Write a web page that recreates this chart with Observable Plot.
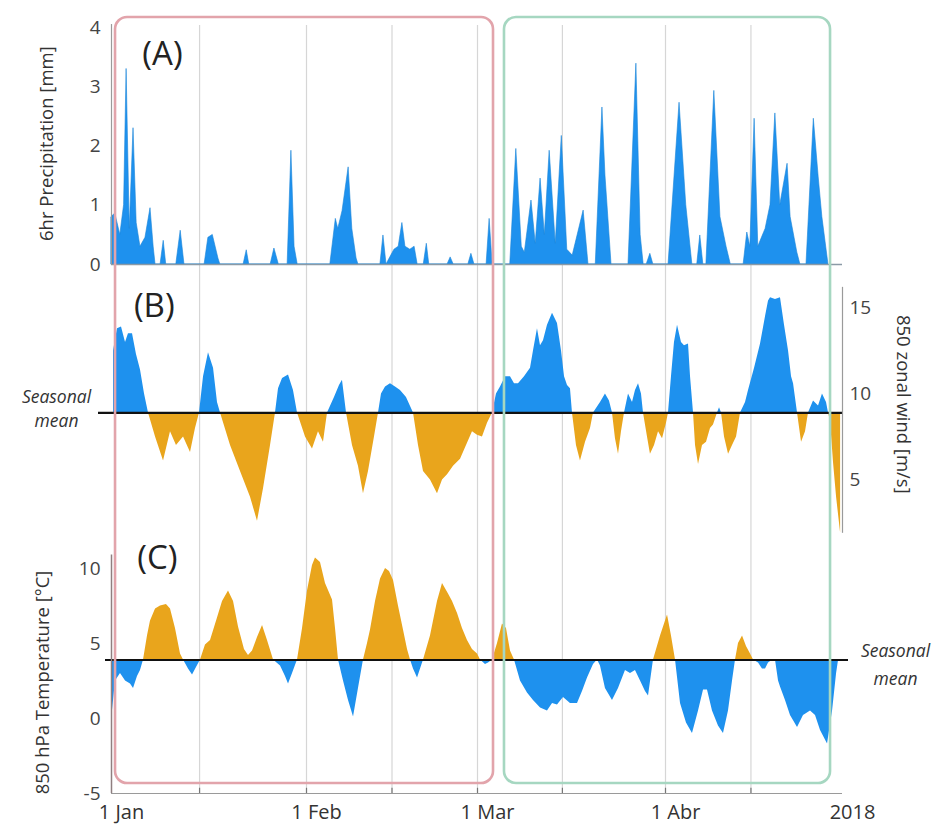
<!DOCTYPE html>
<html><head><meta charset="utf-8">
<script src="https://cdn.jsdelivr.net/npm/d3@7"></script>
<script src="https://cdn.jsdelivr.net/npm/@observablehq/plot@0.6"></script>
<style>
body{margin:0;background:#fff;}
#chart{position:relative;width:942px;height:835px;font-family:"Open Sans",sans-serif;}
#chart svg{position:absolute;left:0;top:0;}
</style></head><body><div id="chart"></div>
<script>
// ---- data (day = days since 1 Jan 2018) ----
const precip = [[0,0.8],[0.6,0.86],[1.4,0.5],[2.0,1.0],[2.4,3.3],[2.9,0.6],[3.5,2.3],[4.0,0.7],[4.6,0.3],[5.4,0.45],[6.2,0.95],[6.7,0.3],[7.0,0],[7.8,0],[8.3,0.4],[8.7,0],[10.3,0],[11.0,0.57],[11.6,0],[14.8,0],[15.4,0.45],[16.1,0.5],[17.0,0.1],[17.3,0],[21.0,0],[21.5,0.24],[21.9,0],[25.3,0],[25.9,0.27],[26.6,0],[28.0,0],[28.6,1.92],[29.1,0.3],[29.6,0],[34.9,0],[35.8,0.77],[36.2,0.6],[36.9,0.9],[37.9,1.64],[38.5,0.6],[39.2,0.1],[39.5,0],[43.1,0],[43.6,0.49],[44.1,0],[45.4,0.25],[46.1,0.3],[46.7,0.7],[47.2,0.3],[48.0,0.25],[48.7,0.3],[49.2,0],[50.2,0],[50.7,0.35],[51.1,0],[54.1,0],[54.6,0.12],[55.1,0],[57.5,0],[58.0,0.18],[58.5,0],[60.5,0],[61.0,0.77],[61.5,0],[64.4,0],[65.4,1.95],[66.3,0.3],[66.8,0.2],[67.9,1.08],[68.6,0.35],[69.4,1.45],[70.1,0.5],[70.9,1.92],[71.9,0.35],[72.9,2.17],[73.8,0.25],[74.7,0.15],[76.5,0.91],[77.3,0],[78.5,0],[79.6,2.65],[80.1,1.5],[81.1,0],[83.9,0],[85.2,3.39],[85.9,0.5],[86.4,0],[86.9,0],[87.5,0.18],[88.0,0],[90.5,0],[92.3,2.73],[93.4,1.0],[94.4,0],[95.2,0],[95.7,0.49],[96.2,0],[96.7,0],[98.0,2.93],[99.0,0.8],[100.0,0.3],[100.7,0],[102.8,0],[103.4,0.54],[103.9,0.3],[104.6,2.46],[105.2,0.3],[106.4,0.6],[107.2,1.0],[108.0,2.55],[108.8,1.0],[110.0,1.7],[110.5,0.8],[111.6,0.2],[112.1,0],[113.1,0],[114.3,2.46],[115.1,1.47],[115.7,0.8],[116.7,0]];

const wind = [[0.32,12.5],[0.95,13.8],[1.59,13.9],[2.23,13.0],[2.70,13.5],[3.34,13.5],[3.97,12.3],[4.61,11.4],[5.25,10.0],[5.88,8.9],[7.0,7.5],[8.27,6.1],[9.38,7.8],[10.33,7.0],[11.45,7.5],[12.56,6.6],[13.35,8.0],[13.99,8.9],[14.63,11.0],[15.42,12.4],[16.22,11.5],[16.85,9.5],[17.33,8.9],[18.92,7.0],[20.51,5.5],[22.10,4.0],[23.21,2.6],[24.17,4.5],[25.28,7.0],[26.07,8.9],[26.55,10.3],[27.19,10.9],[28.14,11.1],[28.93,10.2],[29.57,8.9],[30.84,7.5],[31.98,6.8],[32.96,7.8],[33.78,7.2],[34.44,8.9],[35.58,9.8],[36.40,10.5],[36.89,10.8],[37.55,8.9],[38.53,7.0],[39.51,5.8],[40.33,4.2],[41.15,5.5],[42.13,7.5],[42.79,8.9],[43.28,10.0],[43.94,10.4],[44.75,10.6],[45.57,10.4],[46.39,10.2],[47.37,9.8],[48.52,8.9],[49.34,7.0],[50.16,5.5],[51.30,5.0],[52.45,4.2],[53.27,5.0],[54.09,5.3],[55.07,5.8],[56.22,6.2],[57.20,7.0],[58.18,7.8],[59.0,7.6],[59.82,7.5],[60.65,8.3],[61.47,8.9],[62.13,10.0],[62.79,10.4],[63.62,11.0],[64.44,11.0],[65.10,10.6],[65.76,10.6],[66.75,11.0],[67.74,11.5],[68.23,12.5],[68.89,13.8],[69.39,12.8],[69.88,13.1],[70.54,14.0],[71.37,14.7],[72.19,14.1],[72.85,12.5],[73.35,11.0],[73.84,10.5],[74.33,10.3],[74.66,8.9],[75.32,7.0],[75.98,6.1],[76.81,7.2],[77.63,8.0],[78.13,8.9],[79.28,9.5],[80.10,10.0],[80.76,9.6],[81.26,8.9],[81.75,7.4],[82.25,6.5],[82.74,7.8],[83.24,8.9],[83.90,10.0],[84.56,9.5],[85.05,10.2],[85.55,10.6],[86.04,10.0],[86.37,8.9],[87.03,7.5],[87.52,6.5],[88.19,7.0],[88.85,7.8],[89.51,7.4],[90.16,8.3],[90.49,8.9],[90.98,11.0],[91.47,13.0],[91.97,14.0],[92.62,13.0],[93.11,12.8],[93.77,12.9],[94.10,11.0],[94.59,8.9],[94.92,7.0],[95.41,5.9],[96.06,7.0],[96.72,7.2],[97.37,8.0],[97.86,8.2],[98.52,8.9],[98.85,9.2],[99.18,8.9],[99.67,7.5],[100.33,6.5],[100.98,7.0],[101.64,7.5],[102.29,8.9],[103.11,9.5],[103.60,10.2],[104.59,11.5],[105.57,12.9],[106.39,14.5],[106.88,15.4],[107.21,15.6],[108.02,15.5],[108.84,15.6],[109.50,14.0],[110.16,12.5],[110.65,11.0],[110.98,10.6],[111.63,8.9],[112.29,7.2],[112.94,7.8],[113.43,8.9],[114.25,9.6],[115.07,9.3],[115.72,10.0],[116.38,9.5],[116.71,8.9],[117.04,8.4],[117.53,6.0],[118.03,4.0],[118.69,1.9]];

const temp = [[0.1,0.3],[0.64,2.5],[1.43,3.0],[2.23,2.5],[3.02,2.3],[3.50,2.0],[4.13,2.8],[4.61,3.2],[5.09,3.9],[5.72,5.5],[6.20,6.5],[7.0,7.3],[7.79,7.5],[8.74,7.6],[9.38,7.3],[10.17,6.0],[10.97,4.3],[11.45,3.9],[12.24,3.3],[12.88,2.9],[13.51,3.4],[14.15,3.9],[14.94,4.9],[15.74,5.2],[16.85,6.7],[17.65,7.8],[18.60,8.5],[19.40,7.8],[20.19,6.1],[21.14,4.6],[21.78,4.2],[22.42,4.5],[23.21,5.4],[24.01,6.2],[24.80,5.2],[25.76,3.9],[26.87,3.5],[27.66,2.8],[28.14,2.3],[28.78,3.0],[29.57,3.9],[30.37,6.0],[31.16,8.5],[31.98,10.2],[32.47,10.7],[33.29,10.4],[34.11,9.0],[35.26,7.9],[35.75,6.0],[36.24,3.9],[37.06,2.5],[37.88,1.2],[38.70,0.1],[39.51,2.0],[40.33,3.9],[40.99,5.0],[41.48,5.9],[42.30,7.8],[43.12,9.3],[43.94,10.0],[44.59,9.8],[45.25,9.2],[46.06,7.5],[46.88,5.9],[47.54,4.6],[48.03,3.9],[48.52,3.3],[49.18,2.7],[49.67,3.3],[50.16,3.9],[51.30,5.5],[52.45,7.8],[53.27,9.0],[54.25,8.3],[54.91,7.8],[55.73,7.0],[56.54,6.0],[57.36,5.2],[58.18,4.6],[59.0,4.3],[59.49,3.9],[60.32,3.6],[60.81,3.7],[61.47,3.9],[62.30,5.0],[63.12,6.3],[63.78,6.0],[64.44,4.5],[65.10,3.9],[66.09,2.5],[67.24,1.7],[68.23,1.2],[69.39,0.7],[70.54,0.5],[71.37,1.0],[72.19,0.9],[73.18,1.4],[74.33,1.0],[75.49,1.0],[76.31,1.8],[77.14,2.7],[78.13,3.6],[78.79,3.9],[79.28,3.5],[80.10,2.0],[81.26,1.2],[82.25,2.0],[83.40,3.2],[84.23,3.0],[85.05,3.2],[85.88,2.5],[86.70,1.8],[87.20,1.5],[88.02,3.9],[89.18,5.5],[90.33,6.9],[90.98,5.5],[91.64,3.9],[92.46,1.0],[93.44,-0.3],[94.42,-1.0],[95.41,0.5],[96.23,1.9],[96.88,1.9],[97.70,0.5],[98.68,-0.5],[99.50,-1.0],[100.32,0.5],[100.98,2.5],[101.47,3.9],[101.96,5.0],[102.62,5.5],[103.27,4.8],[103.93,4.3],[104.42,3.9],[105.24,3.7],[105.89,3.3],[106.39,3.3],[106.88,3.7],[107.54,3.9],[108.02,3.9],[108.52,2.5],[108.84,2.1],[109.66,1.2],[110.48,0.2],[111.63,-0.6],[112.61,0.2],[113.76,0.5],[114.58,0.2],[115.40,-0.8],[116.55,-1.7],[117.37,0.5],[118.03,3.0],[118.36,3.9]];

const windMean = 8.9;
const tempMean = 3.9;

const axisDates = ["2018-01-01","2018-02-01","2018-03-01","2018-04-01","2018-04-30"];
const axisLabels = ["1 Jan","1 Feb","1 Mar","1 Abr","2018"];
const gridDates = ["2018-01-15","2018-02-01","2018-02-15","2018-03-01","2018-03-15","2018-04-01","2018-04-15"];

const periodStart = [0.64, 63.45];
const periodEnd = [61.64, 117.04];
const periodColor = ["#e2a4ab", "#a6d7c1"];

const precipTicks = [0,1,2,3,4];
const windTicks = [5,10,15];
const tempTicks = [-5,0,5,10];

// ---- helpers ----
const t0 = Date.UTC(2018,0,1);
const day = d => new Date(t0 + d*864e5);
const utc = s => new Date(s + "T00:00Z");
const BLUE = "#1e91ee", ORANGE = "#e9a51c";
const W = 942, H = 835;
const xScale = {
  type: "utc",
  domain: axisDates.map(utc),
  range: [111, 306, 477, 665, 842]
};
const base = {width: W, height: H, marginLeft: 111, marginRight: 100,
  style: {background: "transparent", fontFamily: "'Open Sans', sans-serif", overflow: "visible"}};
const labelMap = new Map(axisDates.map((d,i)=>[+utc(d), axisLabels[i]]));
const periods = periodStart.map((s,i)=>({s, e: periodEnd[i], c: periodColor[i]}));
const intFmt = d => String(d);

const chart = document.getElementById("chart");

// Layer 1: temperature panel + grid + x axis
chart.append(Plot.plot({...base, marginTop: 25, marginBottom: 42,
  x: {...xScale, axis: null},
  y: {domain: [-5, 10], range: [793, 568], axis: null},
  marks: [
    Plot.ruleX(gridDates.map(utc), {stroke: "#d6d6d6", strokeWidth: 1.2}),
    Plot.areaY(temp, {x: d=>day(d[0]), y1: tempMean, y2: d=>Math.max(d[1], tempMean), fill: ORANGE}),
    Plot.areaY(temp, {x: d=>day(d[0]), y1: tempMean, y2: d=>Math.min(d[1], tempMean), fill: BLUE}),
    Plot.ruleY([tempMean], {stroke: "#111", strokeWidth: 2.2, insetLeft: -6, insetRight: -6}),
    Plot.ruleY([-5], {stroke: "#9a9a9a", strokeWidth: 1.2}),
    Plot.ruleX([day(0)], {y1: -5, y2: 10.9, stroke: "#8f7f80", strokeWidth: 1.5}),
    Plot.ruleX(gridDates.map(utc), {y1: -5, y2: -4.65, stroke: "#777", strokeWidth: 1.2}),
    Plot.axisY({ticks: tempTicks, tickFormat: intFmt, tickSize: 0, tickPadding: 11, fontSize: 19, label: null, color: "#444"}),
    Plot.axisX({ticks: axisDates.map(utc), tickFormat: d=>labelMap.get(+d), tickSize: 0, tickPadding: 11,
      fontSize: 20, dx: 10, label: null, color: "#333"}),
    Plot.text(["(C)"], {x: day(7.3), y: 10.7, fontSize: 33, fill: "#222"}),
    Plot.text(["850 hPa Temperature [°C]"], {frameAnchor: "left", y: 2.4, dx: -68, rotate: -90,
      textAnchor: "middle", fontSize: 18.5, fill: "#333"}),
    Plot.text(["Seasonal\nmean"], {frameAnchor: "right", y: tempMean, dx: 53, dy: 2, lineHeight: 1.6,
      textAnchor: "middle", fontSize: 17.5, fontStyle: "italic", fill: "#333"})
  ]
}));

// Layer 2: precipitation
chart.append(Plot.plot({...base,
  x: {...xScale, axis: null},
  y: {domain: [0, 4], range: [264, 27], axis: null},
  marks: [
    Plot.areaY(precip, {x: d=>day(d[0]), y: d=>d[1], fill: BLUE, stroke: "#1a84d8", strokeWidth: 0.6}),
    Plot.ruleY([0], {stroke: "#8b9aa6", strokeWidth: 1.5}),
    Plot.ruleX([day(0)], {y1: 0, y2: 4.05, stroke: "#9a9a9a", strokeWidth: 1.2}),
    Plot.axisY({ticks: precipTicks, tickFormat: intFmt, tickSize: 0, tickPadding: 11, fontSize: 19, label: null, color: "#444"}),
    Plot.text(["(A)"], {x: day(8.1), y: 3.54, fontSize: 33, fill: "#222"}),
    Plot.text(["6hr Precipitation [mm]"], {frameAnchor: "left", y: 2.04, dx: -64, rotate: -90,
      textAnchor: "middle", fontSize: 18.5, fill: "#333"})
  ]
}));

// Layer 3: 850 hPa zonal wind
chart.append(Plot.plot({...base,
  x: {...xScale, axis: null},
  y: {domain: [5, 15], range: [479.5, 307.5], axis: null},
  marks: [
    Plot.areaY(wind, {x: d=>day(d[0]), y1: windMean, y2: d=>Math.max(d[1], windMean), fill: BLUE}),
    Plot.areaY(wind, {x: d=>day(d[0]), y1: windMean, y2: d=>Math.min(d[1], windMean), fill: ORANGE}),
    Plot.ruleY([windMean], {stroke: "#111", strokeWidth: 2.2, insetLeft: -13}),
    Plot.ruleX([day(119)], {y1: 1.9, y2: 16.2, stroke: "#9a9a9a", strokeWidth: 1.2}),
    Plot.axisY({anchor: "right", ticks: windTicks, tickFormat: intFmt, tickSize: 0, tickPadding: 7, fontSize: 19, label: null, color: "#444"}),
    Plot.text(["(B)"], {x: day(6.8), y: 15.1, fontSize: 33, fill: "#222"}),
    Plot.text(["850 zonal wind [m/s]"], {frameAnchor: "right", y: 9.4, dx: 60, rotate: 90,
      textAnchor: "middle", fontSize: 18.5, fill: "#333"}),
    Plot.text(["Seasonal\nmean"], {frameAnchor: "left", y: windMean, dx: -55, dy: -6, lineHeight: 1.4,
      textAnchor: "middle", fontSize: 17.5, fontStyle: "italic", fill: "#333"})
  ]
}));

// Layer 4: period boxes
chart.append(Plot.plot({...base, marginTop: 17, marginBottom: 52,
  x: {...xScale, axis: null},
  marks: [
    Plot.rect(periods, {x1: d=>day(d.s), x2: d=>day(d.e), stroke: d=>d.c, fill: "none", strokeWidth: 2.6, rx: 12})
  ],
  color: {type: "identity"}
}));
</script></body></html>
